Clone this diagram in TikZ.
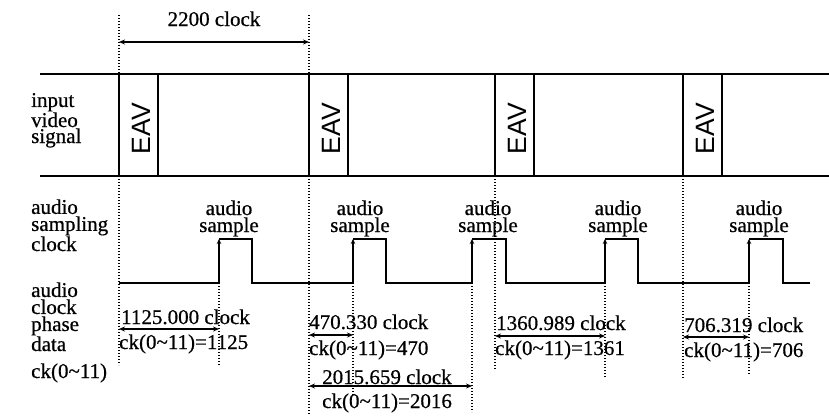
\documentclass[tikz,border=0pt]{standalone}
\usepackage{fontspec}
\setmainfont[FakeBold=0.6]{Liberation Serif}
\newfontfamily\eavfont{Liberation Sans}
\usetikzlibrary{arrows.meta}
\newcommand{\tld}{\textasciitilde}
\begin{document}
\begin{tikzpicture}[x=1pt,y=-1pt,
  sigline/.style={line width=2.8pt},
  eavbox/.style={line width=1.4pt},
  eavtext/.style={inner sep=0pt, rotate=90, font=\eavfont\fontsize{26.5}{26.5}\selectfont},
  wave/.style={line width=2pt, line join=miter},
  edgearrow/.style={wave, -{Stealth[length=5pt,width=4.5pt]}},
  guide/.style={line width=1.3pt, dash pattern=on 1.2pt off 1.8pt},
  dimarrow/.style={line width=1.2pt, {Stealth[length=6pt,width=5pt]}-{Stealth[length=6pt,width=5pt]}},
  txt/.style={inner sep=0pt, font=\fontsize{21}{17}\selectfont},
  sidelbl/.style={txt, align=left, anchor=base west},
  smplbl/.style={txt, align=center, anchor=base},
  vallbl/.style={txt, anchor=base west},
]
\useasboundingbox (0,0) rectangle (829,416);

% ---------- video signal ----------
\coordinate (vtl) at (40,74);  \coordinate (vtr) at (829,74);
\coordinate (vbl) at (40,176); \coordinate (vbr) at (829,176);
\draw[sigline] (vtl) -- (vtr);
\draw[sigline] (vbl) -- (vbr);
\foreach \n/\x in {1/119,2/309,3/495,4/683}{
  \coordinate (e\n tl) at (\x,74);
  \coordinate (e\n br) at (\x+39,176);
  \draw[eavbox] (e\n tl) rectangle (e\n br);
  \node[eavtext] (eav\n) at (\x+22.5,128.5) {EAV};
}

% ---------- labels left (anchor = baseline of last line) ----------
\node[sidelbl, font=\fontsize{21}{16}\selectfont] (lvid) at (31,143) {input\\video\\signal};
\node[sidelbl] (lasc) at (31,251) {audio\\sampling\\clock};
\node[sidelbl] (lacp) at (31,351) {audio\\clock\\phase\\data};
\node[vallbl] (lck) at (31,378) {ck(0\tld 11)};

% ---------- 2200 clock ----------
\coordinate (t1) at (119,15); \coordinate (t1b) at (119,74);
\coordinate (t2) at (309,15); \coordinate (t2b) at (309,74);
\draw[guide] (t1) -- (t1b);
\draw[guide] (t2) -- (t2b);
\coordinate (d0a) at (119,42); \coordinate (d0b) at (309,42);
\draw[dimarrow] (d0a) -- (d0b);
\node[txt, anchor=base] (l2200) at (214,26) {2200 clock};

% ---------- audio sampling clock waveform ----------
\coordinate (w0) at (119,283);
\foreach \n/\r/\f in {1/219/252,2/353/386,3/472/506,4/605/638,5/749/783}{
  \coordinate (r\n) at (\r,283);
  \coordinate (rt\n) at (\r,239);
  \coordinate (ft\n) at (\f,239);
  \coordinate (f\n) at (\f,283);
}
\coordinate (wend) at (810,283);
\draw[wave] (w0) -- (r1);
\draw[wave] (rt1) -- (ft1) -- (f1) -- (r2);
\draw[wave] (rt2) -- (ft2) -- (f2) -- (r3);
\draw[wave] (rt3) -- (ft3) -- (f3) -- (r4);
\draw[wave] (rt4) -- (ft4) -- (f4) -- (r5);
\draw[wave] (rt5) -- (ft5) -- (f5) -- (wend);
\foreach \n in {1,...,5}{ \draw[edgearrow] (r\n) -- (rt\n); }

\node[smplbl] (s1) at (229,232) {audio\\sample};
\node[smplbl] (s2) at (360,232) {audio\\sample};
\node[smplbl] (s3) at (488,232) {audio\\sample};
\node[smplbl] (s4) at (618,232) {audio\\sample};
\node[smplbl] (s5) at (759,232) {audio\\sample};

% ---------- dotted guides ----------
\coordinate (g1a) at (119,176); \coordinate (g1b) at (119,365);
\coordinate (g2a) at (309,176); \coordinate (g2b) at (309,414);
\coordinate (g3a) at (495,176); \coordinate (g3b) at (495,370);
\coordinate (g4a) at (683,176); \coordinate (g4b) at (683,378);
\draw[guide] (g1a) -- (g1b);
\draw[guide] (g2a) -- (g2b);
\draw[guide] (g3a) -- (g3b);
\draw[guide] (g4a) -- (g4b);
\coordinate (p1b) at (219,365);
\coordinate (p2b) at (353,395);
\coordinate (p3b) at (472,412);
\coordinate (p4b) at (605,378);
\coordinate (p5b) at (749,375);
\foreach \n in {1,...,5}{ \draw[guide] (r\n) -- (p\n b); }

% ---------- phase data ----------
\coordinate (a1a) at (119,329); \coordinate (a1b) at (219,329);
\draw[dimarrow] (a1a) -- (a1b);
\node[vallbl] (v1) at (121,324) {1125.000 clock};
\node[vallbl] (c1) at (119,349) {ck(0\tld 11)=1125};

\coordinate (a2a) at (309,335); \coordinate (a2b) at (353,335);
\draw[dimarrow] (a2a) -- (a2b);
\node[vallbl] (v2) at (309,329) {470.330 clock};
\node[vallbl] (c2) at (309,355) {ck(0\tld 11)=470};

\coordinate (a5a) at (309,386); \coordinate (a5b) at (472,386);
\draw[dimarrow] (a5a) -- (a5b);
\node[vallbl] (v5) at (322,384) {2015.659 clock};
\node[vallbl] (c5) at (322,408) {ck(0\tld 11)=2016};

\coordinate (a3a) at (495,336); \coordinate (a3b) at (605,336);
\draw[dimarrow] (a3a) -- (a3b);
\node[vallbl] (v3) at (496,330) {1360.989 clock};
\node[vallbl] (c3) at (495,355) {ck(0\tld 11)=1361};

\coordinate (a4a) at (683,337); \coordinate (a4b) at (749,337);
\draw[dimarrow] (a4a) -- (a4b);
\node[vallbl] (v4) at (684,332) {706.319 clock};
\node[vallbl] (c4) at (684,357) {ck(0\tld 11)=706};
\end{tikzpicture}
\end{document}
